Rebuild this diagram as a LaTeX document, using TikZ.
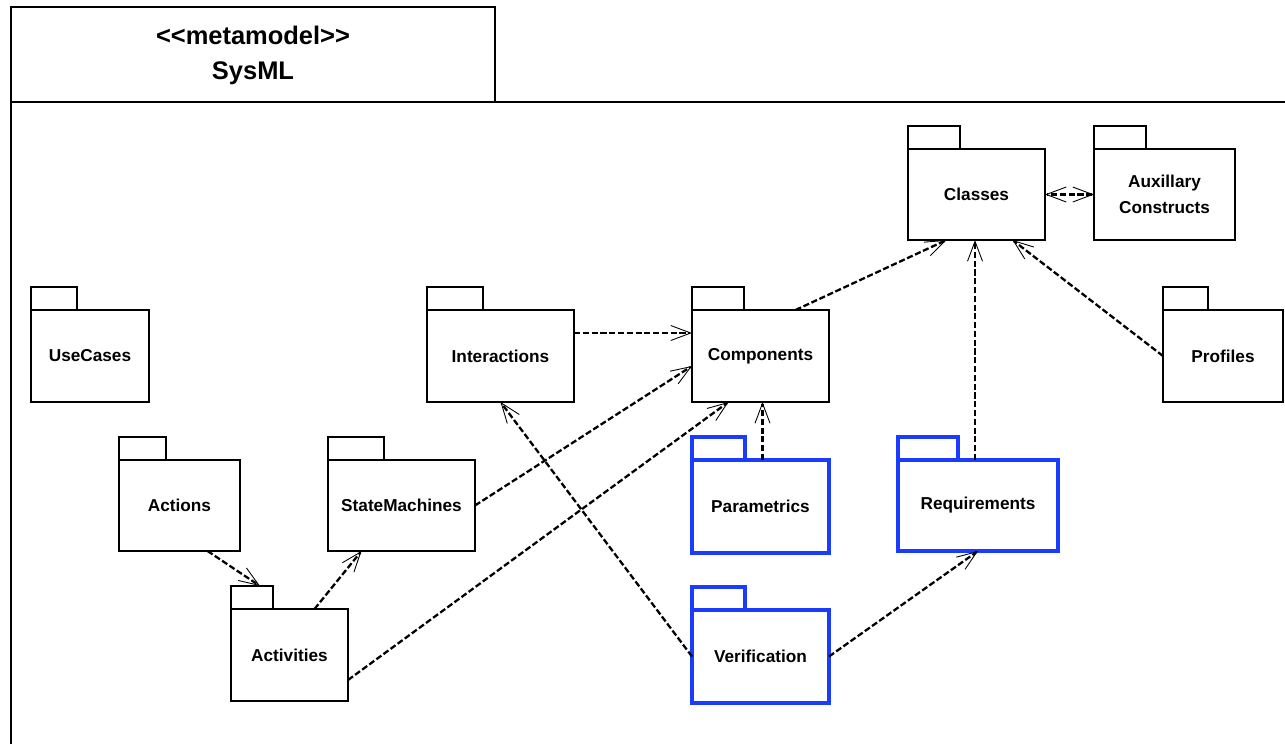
\documentclass[tikz,border=0pt]{standalone}
\usepackage{fontspec}
\setmainfont{Liberation Sans}
\usetikzlibrary{arrows.meta, positioning, calc}
\definecolor{pkgblue}{HTML}{1A3CFF}
\tikzset{
  pkg/.style 2 args={draw, line width=0.8pt, minimum width=#1*0.02cm,
    minimum height=#2*0.02cm, inner sep=0pt, outer sep=0pt, align=center,
    font=\fontsize{9.8}{14.5}\selectfont\bfseries},
  bluepkg/.style={draw=pkgblue, line width=2pt},
  tab/.style={draw, line width=0.6pt},
  dep/.style={dash pattern=on 3.5pt off 1.5pt, line width=1.3pt, ->},
  >={Straight Barb[length=4mm, width=3mm, line width=0.5pt]}
}

\begin{document}
\begin{tikzpicture}[x=0.02cm, y=-0.02cm]
  \useasboundingbox (0,0) rectangle (1285,744);
  % frame
  \draw[line width=0.8pt] (11,7) rectangle (495,102);
  \draw[line width=0.8pt] (11,744) -- (11,102) -- (1285,102);
  \node[font=\fontsize{14.5}{20}\selectfont\bfseries, align=center] (title) at (253,55)
    {<\kern0pt<metamodel>\kern0pt>\\SysML};

  % packages
  \node[pkg={137}{91}] (cls) at (976.5,194.5) {Classes};
  \node[pkg={141}{91}] (aux) at (1164.5,194.5) {Auxillary\\Constructs};
  \node[pkg={118}{92}] (uc) at (90,356) {UseCases};
  \node[pkg={147}{92}] (inter) at (500.5,356) {Interactions};
  \node[pkg={137}{92}] (comp) at (760.5,356) {Components};
  \node[pkg={120}{92}] (prof) at (1223,356) {Profiles};
  \node[pkg={121}{91}] (act) at (179.5,505.5) {Actions};
  \node[pkg={147}{91}] (sm) at (401.5,505.5) {StateMachines};
  \node[pkg={117}{92}] (actv) at (289.5,655) {Activities};
  \node[pkg={137}{93}, bluepkg] (par) at (760.5,506.5) {Parametrics};
  \node[pkg={160}{91}, bluepkg] (req) at (978,505.5) {Requirements};
  \node[pkg={137}{93}, bluepkg] (ver) at (760.5,656.5) {Verification};

  % tabs
  \foreach \n/\w in {cls/52, aux/52, uc/46, inter/56, comp/52, prof/45, act/47, sm/56, actv/42}
    \draw[tab] (\n.north west) rectangle ++(\w,-23);
  \foreach \n/\w in {par/53, req/60, ver/53}
    \draw[tab, bluepkg] (\n.north west) rectangle ++(\w,-23);

  % dependencies
  \draw[dep, <->] (aux.west) -- (cls.east);
  \draw[dep] ($(comp.north)+(35,0)$) -- ($(cls.south)+(-30,0)$);
  \draw[dep] ($(req.north)+(-3,0)$) -- ($(cls.south)+(-1.5,0)$);
  \draw[dep] (prof.west) -- ($(cls.south)+(36,0)$);
  \draw[dep] ($(inter.east)+(0,-23)$) -- ($(comp.west)+(0,-23)$);
  \draw[dep] (sm.east) -- ($(comp.west)+(0,10)$);
  \draw[dep] ($(actv.east)+(0,25)$) -- ($(comp.south)+(-32,0)$);
  \draw[dep] ($(par.north)+(2,0)$) -- ($(comp.south)+(2,0)$);
  \draw[dep] (ver.west) -- (inter.south);
  \draw[dep] (ver.east) -- (req.south);
  \draw[dep] ($(act.south)+(28,0)$) -- ($(actv.north west)+(29,-23)$);
  \draw[dep] ($(actv.north)+(25,0)$) -- ($(sm.south)+(-40,0)$);
\end{tikzpicture}
\end{document}
